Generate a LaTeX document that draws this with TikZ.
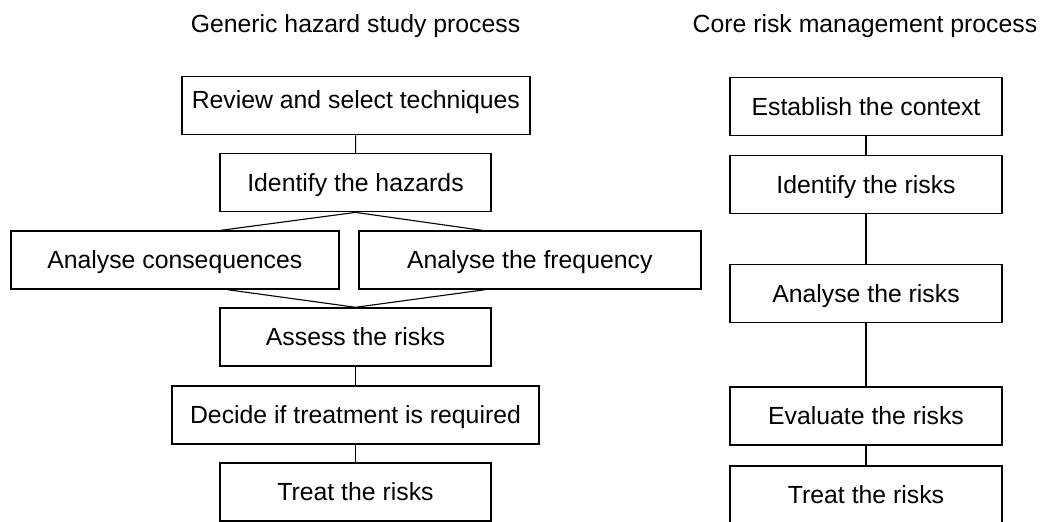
\documentclass[tikz,border=0pt]{standalone}
\usepackage{fontspec}
\setmainfont{Liberation Sans}
\usetikzlibrary{calc}

\tikzset{
  stage/.style={draw, line width=0.7pt, minimum height=29pt, inner sep=0pt,
    text height=9pt, text depth=0pt, font=\fontsize{12.4}{14}\selectfont},
  heading/.style={anchor=base, font=\fontsize{12.4}{14}\selectfont},
  link/.style={line width=0.55pt}
}

\begin{document}
\begin{tikzpicture}[x=0.5pt,y=-0.5pt]
  \useasboundingbox (0,0) rectangle (1044,522);
  % generic hazard study
  \node[heading] (hazTitle) at (355.5,32.3) {Generic hazard study process};
  \node[stage,minimum width=174pt,text depth=6pt] (review) at (355.8,105.7) {Review and select techniques};
  \node[stage,minimum width=135.5pt] (hazards) at (355.5,182.7) {Identify the hazards};
  \node[stage,minimum width=164pt] (conseq) at (174.8,260) {Analyse consequences};
  \node[stage,minimum width=171pt] (freq) at (529.8,260) {Analyse the frequency};
  \node[stage,minimum width=135.5pt] (assess) at (355.5,337) {Assess the risks};
  \node[stage,minimum width=183.5pt] (decide) at (355.5,415) {Decide if treatment is required};
  \node[stage,minimum width=135.5pt] (treatL) at (355.5,492) {Treat the risks};
  \draw[link] (review) -- (hazards);
  \draw[link] (hazards.south) -- ($(conseq.north west)!0.64!(conseq.north east)$);
  \draw[link] (hazards.south) -- ($(freq.north west)!0.36!(freq.north east)$);
  \draw[link] ($(conseq.south west)!0.66!(conseq.south east)$) -- (assess.north);
  \draw[link] ($(freq.south west)!0.37!(freq.south east)$) -- (assess.north);
  \draw[link] (assess) -- (decide);
  \draw[link] (decide) -- (treatL);
  % core risk management
  \node[heading] (coreTitle) at (865,32.3) {Core risk management process};
  \node[stage,minimum width=136pt] (context) at (866,106.3) {Establish the context};
  \node[stage,minimum width=136pt] (identR) at (866,184.3) {Identify the risks};
  \node[stage,minimum width=136pt] (analyseR) at (866,293.3) {Analyse the risks};
  \node[stage,minimum width=136pt] (evalR) at (866,416) {Evaluate the risks};
  \node[stage,minimum width=136pt] (treatR) at (866,495) {Treat the risks};
  \draw[link] (context) -- (identR);
  \draw[link] (identR) -- (analyseR);
  \draw[link] (analyseR) -- (evalR);
  \draw[link] (evalR) -- (treatR);
\end{tikzpicture}
\end{document}
